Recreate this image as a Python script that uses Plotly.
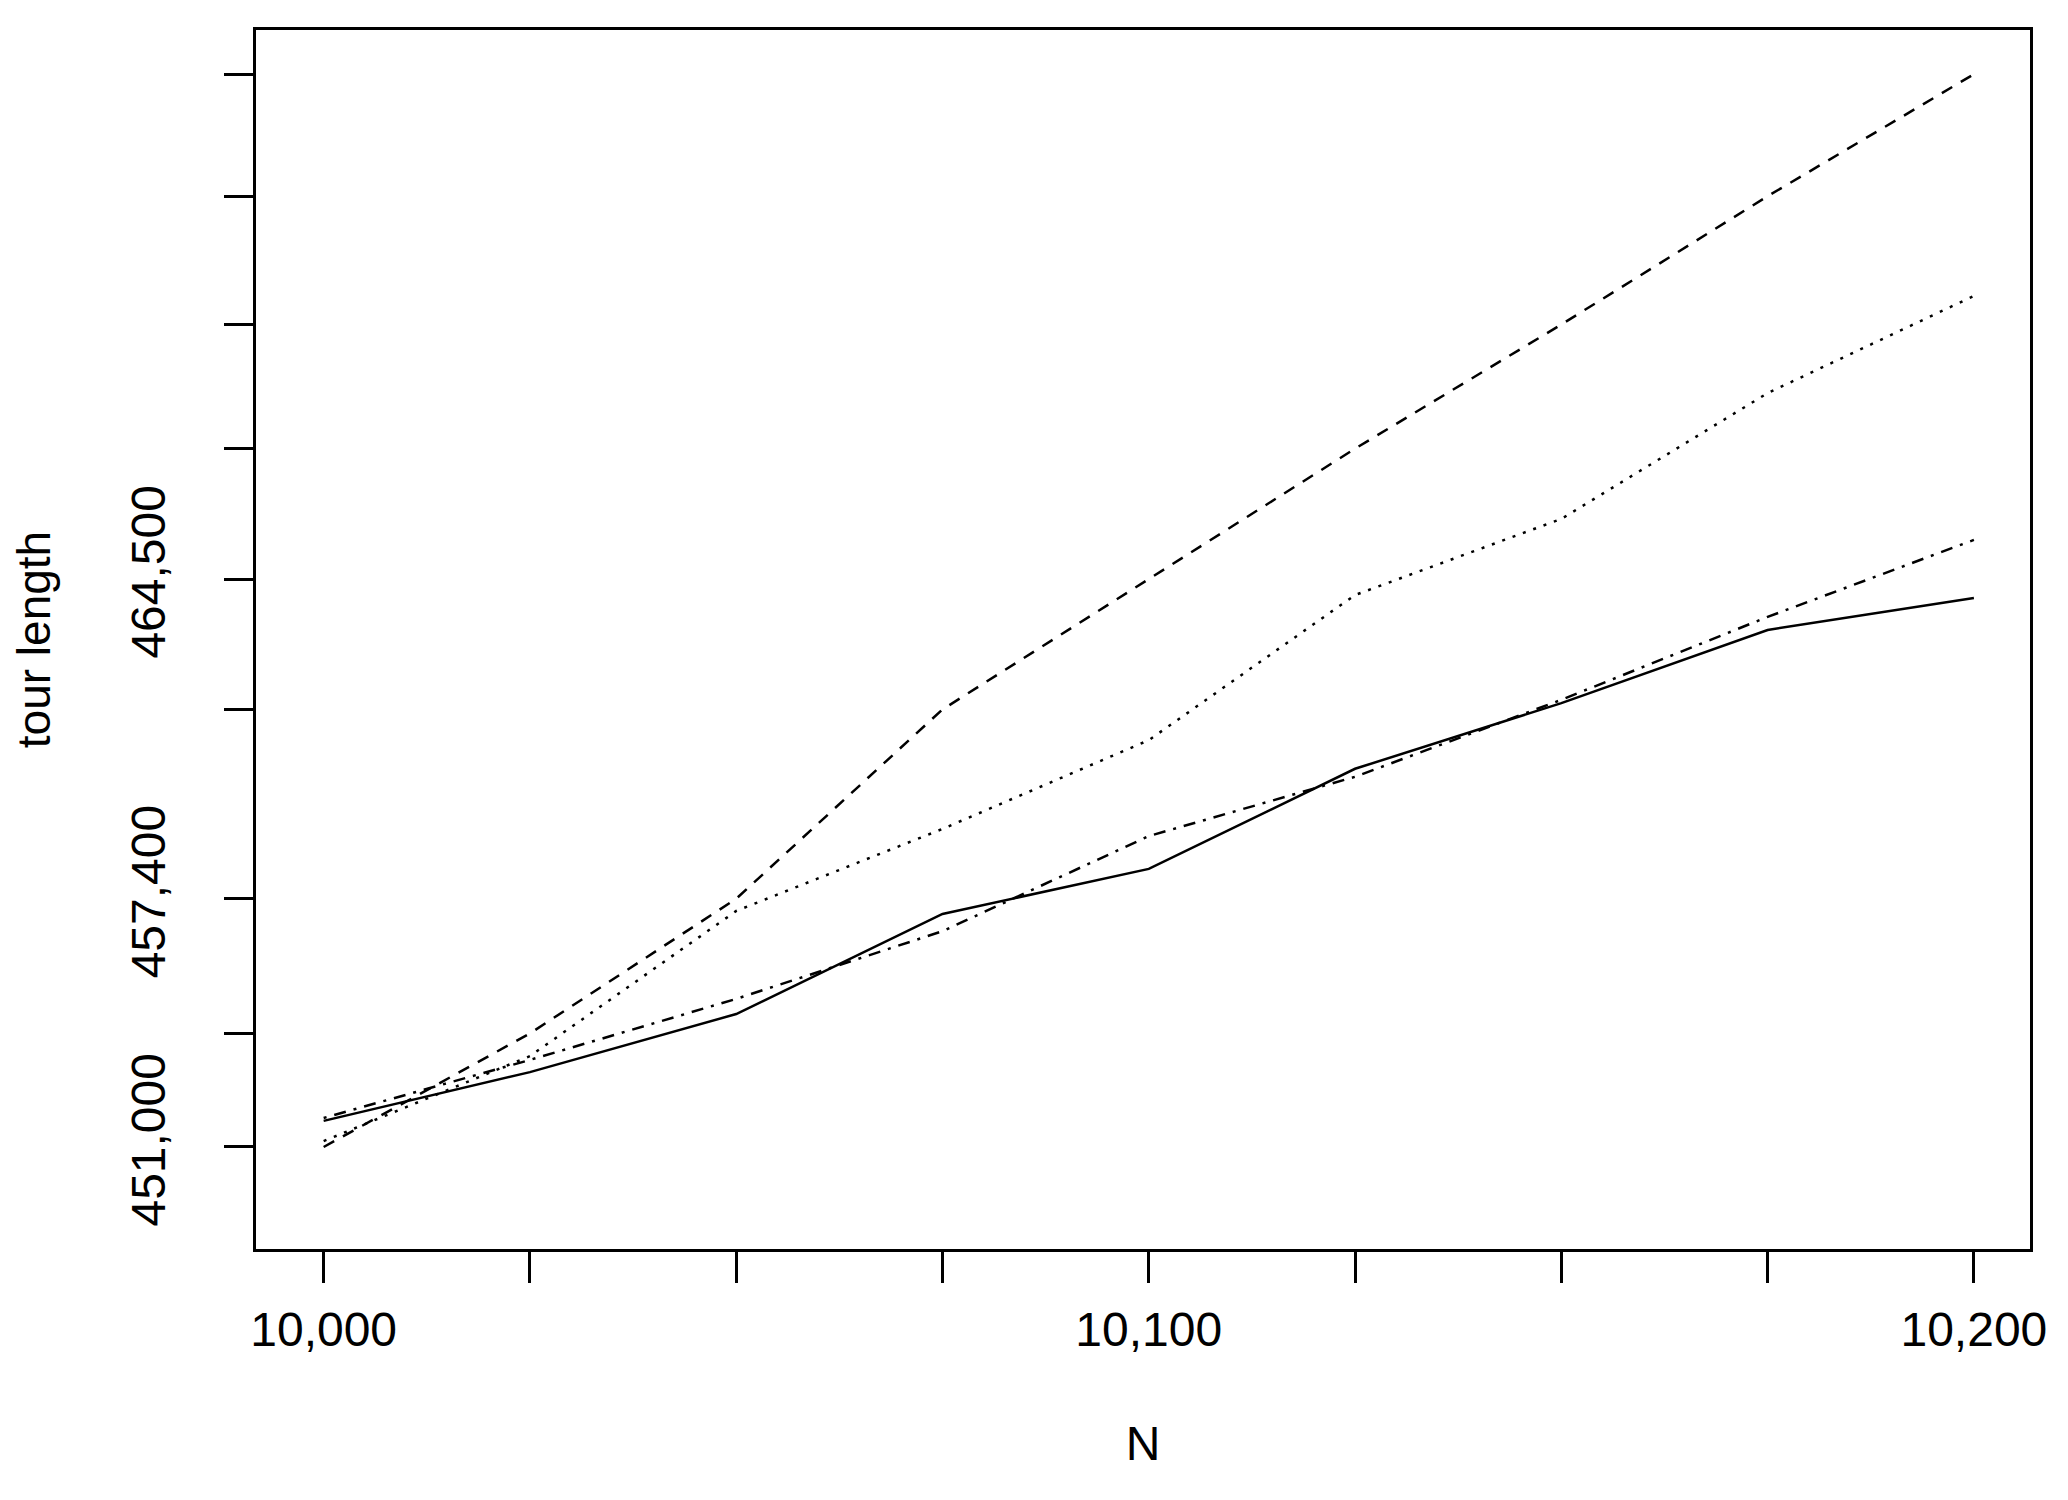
import plotly.graph_objects as go

# Problem size N and tour lengths for four runs
n_vals = [10000, 10025, 10050, 10075, 10100, 10125, 10150, 10175, 10200]
solid_vals = [451620, 452780, 454160, 456540, 457610, 459990, 461550, 463290, 464050]
dashed_vals = [451000, 453700, 456900, 461400, 464500, 467600, 470550, 473600, 476500]
dotted_vals = [451140, 453160, 456610, 458560, 460670, 464120, 465930, 468920, 471230]
dotdash_vals = [451690, 453070, 454520, 456130, 458390, 459800, 461630, 463600, 465430]

x_ticktext = ["10,000", "", "", "", "10,100", "", "", "", "10,200"]
y_ticktext = ["451,000", "", "457,400", "", "464,500", "", "", "", ""]

FONT = "Liberation Sans, Arial, sans-serif"

fig = go.Figure()
series = [
    (solid_vals, "solid"),
    (dashed_vals, "12px,10px"),
    (dotted_vals, "3px,8px"),
    (dotdash_vals, "3px,8px,12px,8px"),
]
for vals, dash in series:
    fig.add_trace(go.Scatter(x=n_vals, y=vals, mode="lines",
                             line=dict(color="black", width=2.5, dash=dash),
                             showlegend=False))

axis_common = dict(showline=True, linecolor="black", linewidth=2.5, mirror=True,
                   showgrid=False, zeroline=False, ticks="outside",
                   tickcolor="black", tickwidth=2.5,
                   tickfont=dict(family=FONT, size=48, color="black"))

fig.update_xaxes(range=[9991.8, 10206.8], tickmode="array", tickvals=n_vals,
                 ticktext=x_ticktext, ticklen=31, ticklabelstandoff=6,
                 title=dict(text="N", font=dict(family=FONT, size=48, color="black"),
                            standoff=72),
                 **axis_common)
fig.update_yaxes(range=[448575, 477551], tickmode="array", tickvals=dashed_vals,
                 ticktext=y_ticktext, ticklen=29, tickangle=-90, ticklabelstandoff=40,
                 title=dict(text="tour length", font=dict(family=FONT, size=46, color="black"),
                            standoff=70),
                 **axis_common)

fig.update_layout(width=2052, height=1484, plot_bgcolor="white", paper_bgcolor="white",
                  margin=dict(l=240, r=30, t=22, b=243))
fig.write_html("out.html")
